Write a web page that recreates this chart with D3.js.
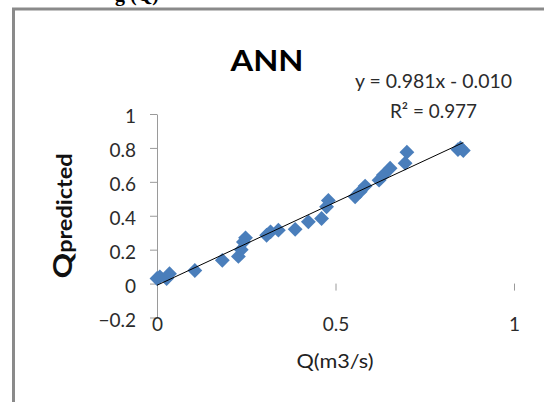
<!DOCTYPE html>
<html>
<head>
<meta charset="utf-8">
<script src="https://cdn.jsdelivr.net/npm/d3@7"></script>
<style>
  body { margin: 0; background: #fff; }
  svg { display: block; }
</style>
</head>
<body>
<svg id="chart"></svg>
<script>
const qObserved  = [0.000, 0.008, 0.027, 0.035, 0.106, 0.183, 0.228, 0.236, 0.242, 0.248,
                    0.307, 0.318, 0.340, 0.387, 0.424, 0.461, 0.475, 0.480, 0.555, 0.569,
                    0.583, 0.622, 0.634, 0.653, 0.695, 0.700, 0.843, 0.850, 0.858];
const qPredicted = [0.030, 0.040, 0.030, 0.058, 0.077, 0.137, 0.160, 0.200, 0.245, 0.270,
                    0.285, 0.305, 0.315, 0.320, 0.364, 0.384, 0.453, 0.490, 0.512, 0.542,
                    0.575, 0.610, 0.640, 0.680, 0.710, 0.775, 0.790, 0.800, 0.785];
const xTicks = [0, 0.5, 1];
const yTicks = [-0.2, 0, 0.2, 0.4, 0.6, 0.8, 1];
const slope = 0.981, intercept = -0.010, r2 = 0.977;

const width = 544, height = 402;
const svg = d3.select("#chart").attr("width", width).attr("height", height);
const font = "Lato, 'Open Sans', sans-serif";

// frame of the figure
svg.append("path")
    .attr("d", "M13.5,402 V9 H544")
    .attr("fill", "none")
    .attr("stroke", "#8a8a8a")
    .attr("stroke-width", 3);

// caption cut off at top
svg.append("text")
    .attr("x", 115).attr("y", 1)
    .style("font", "bold 20px 'Liberation Serif', serif")
    .text("g (Q)");

const x = d3.scaleLinear().domain([0, 1]).range([157, 514]);
const y = d3.scaleLinear().domain([-0.2, 1]).range([317.5, 114]);

// y axis
const yAxis = svg.append("g")
    .attr("transform", `translate(${x(0)},0)`)
    .call(d3.axisLeft(y).tickValues(yTicks).tickSize(7).tickPadding(14)
        .tickFormat(d => d3.format("")(+d.toFixed(1))).tickSizeOuter(0));
yAxis.select(".domain").attr("stroke", "#9a9a9a");
yAxis.selectAll(".tick line").attr("stroke", "#9a9a9a");
yAxis.selectAll(".tick text")
    .attr("dy", "0.45em")
    .style("font", `19px ${font}`)
    .attr("fill", "#2b2b2b");

// x axis (ticks only, crossing at y = 0)
const xAxis = svg.append("g")
    .attr("transform", `translate(0,${y(0)})`)
    .call(d3.axisBottom(x).tickValues(xTicks).tickSize(7).tickPadding(27)
        .tickFormat(d3.format("")));
xAxis.select(".domain").remove();
xAxis.selectAll(".tick line").attr("stroke", "#9a9a9a");
xAxis.selectAll(".tick text")
    .style("font", `19px ${font}`)
    .attr("fill", "#2b2b2b");

// points
const pts = qObserved.map((d, i) => [d, qPredicted[i]]);
svg.append("g")
    .selectAll("path")
    .data(pts)
    .join("path")
    .attr("d", d3.symbol(d3.symbolSquare, 110))
    .attr("transform", d => `translate(${x(d[0])},${y(d[1])}) rotate(45)`)
    .attr("fill", "#4a7ebb");

// linear trend line
const xMin = d3.min(qObserved), xMax = d3.max(qObserved);
svg.append("line")
    .attr("x1", x(xMin)).attr("y1", y(slope * xMin + intercept))
    .attr("x2", x(xMax)).attr("y2", y(slope * xMax + intercept))
    .attr("stroke", "#000")
    .attr("stroke-width", 1);

// title
svg.append("text")
    .attr("x", 267).attr("y", 71)
    .attr("text-anchor", "middle")
    .attr("textLength", 73).attr("lengthAdjust", "spacingAndGlyphs")
    .style("font", `bold 28px ${font}`)
    .text("ANN");

// equation
svg.append("text")
    .attr("x", 355).attr("y", 88)
    .attr("textLength", 157).attr("lengthAdjust", "spacingAndGlyphs")
    .style("font", `19px ${font}`)
    .attr("fill", "#2b2b2b")
    .text(`y = ${slope.toFixed(3)}x - ${Math.abs(intercept).toFixed(3)}`);
svg.append("text")
    .attr("x", 390).attr("y", 118)
    .attr("textLength", 87).attr("lengthAdjust", "spacingAndGlyphs")
    .style("font", `19px ${font}`)
    .attr("fill", "#2b2b2b")
    .text(`R\u00b2 = ${r2.toFixed(3)}`);

// axis titles
svg.append("text")
    .attr("x", 335).attr("y", 368)
    .attr("text-anchor", "middle")
    .attr("textLength", 77).attr("lengthAdjust", "spacingAndGlyphs")
    .style("font", `19px ${font}`)
    .attr("fill", "#222")
    .text("Q(m3/s)");

const yLab = svg.append("text")
    .attr("transform", "translate(72,216) rotate(-90)")
    .attr("text-anchor", "middle")
    .attr("textLength", 125).attr("lengthAdjust", "spacingAndGlyphs")
    .style("font", `bold 20px ${font}`)
    .attr("fill", "#111");
yLab.append("tspan").style("font-size", "27px").text("Q");
yLab.append("tspan").text("predicted");
</script>
</body>
</html>
